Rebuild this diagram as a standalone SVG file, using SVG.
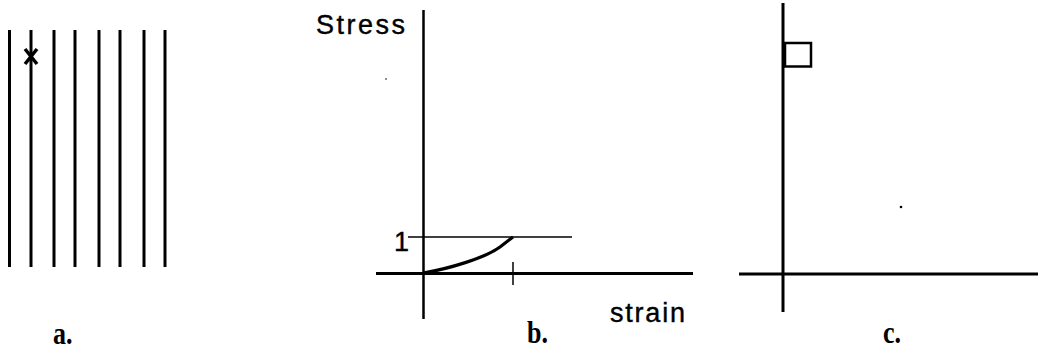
<svg xmlns="http://www.w3.org/2000/svg" width="1038" height="350" viewBox="0 0 1038 350">
<style>
.ln{stroke:#000;fill:none;stroke-linecap:butt}
.thick{stroke-width:3}
.mid{stroke-width:2.5}
.thin{stroke-width:1.5}
.sans{font-family:"Liberation Sans",Arial,sans-serif;font-size:27px;fill:#000;stroke:#000;stroke-width:0.4}
.lab{font-family:"Liberation Serif","Times New Roman",serif;font-weight:bold;font-size:26px;fill:#000}
</style>
<rect width="1038" height="350" fill="#fff"/>
<g id="panel-a">
  <g class="ln thick">
    <line x1="9.5" y1="30" x2="9.5" y2="267"/>
    <line x1="31" y1="30" x2="31" y2="267"/>
    <line x1="54" y1="30" x2="54" y2="267"/>
    <line x1="75" y1="30" x2="75" y2="267"/>
    <line x1="99" y1="30" x2="99" y2="267"/>
    <line x1="120" y1="30" x2="120" y2="267"/>
    <line x1="144" y1="30" x2="144" y2="267"/>
    <line x1="165" y1="30" x2="165" y2="267"/>
  </g>
  <g id="x-mark" class="ln" stroke-width="3.5">
    <line x1="25" y1="49" x2="37" y2="64"/>
    <line x1="37" y1="49" x2="25" y2="64"/>
  </g>
  <text class="lab" transform="translate(53,344) scale(1,1.2)">a.</text>
</g>
<g id="panel-b">
  <g id="b-axes" class="ln">
    <line class="mid" x1="423.5" y1="10" x2="423.5" y2="319"/>
    <line class="thick" x1="376" y1="273.5" x2="693" y2="273.5"/>
    <line class="thin" x1="408" y1="237" x2="572" y2="237"/>
    <line class="thin" x1="513" y1="262" x2="513" y2="285"/>
  </g>
  <path id="b-curve" class="ln" stroke-width="3.2" d="M423,273 C448,269 485,258 500,247 L513,237"/>
  <text class="sans" x="316" y="34" textLength="89" lengthAdjust="spacing">Stress</text>
  <text class="sans" x="610" y="322" textLength="75" lengthAdjust="spacing">strain</text>
  <text class="sans" x="394" y="251" font-size="19" stroke-width="0.2">1</text>
  <circle cx="386" cy="79" r="0.8" fill="#000"/>
  <text class="lab" transform="translate(527,343) scale(1,1.2)">b.</text>
</g>
<g id="panel-c">
  <g class="ln thick">
    <line x1="783" y1="3" x2="783" y2="312"/>
    <line x1="739" y1="274" x2="1038" y2="274"/>
  </g>
  <rect id="c-square" class="ln" stroke-width="2.5" x="785" y="43" width="26" height="23.5"/>
  <circle cx="901" cy="207" r="1.3" fill="#000"/>
  <text class="lab" transform="translate(883,343) scale(1,1.2)">c.</text>
</g>
</svg>
